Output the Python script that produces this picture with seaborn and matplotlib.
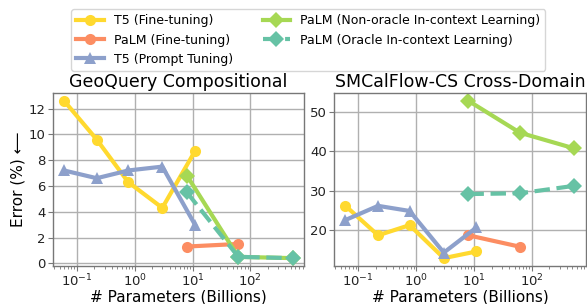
import pandas as pd
import matplotlib.pyplot as plt
import seaborn as sns

# model sizes (billions of parameters)
t5_sizes = [0.06, 0.22, 0.77, 3, 11]
palm_sizes = [8, 62, 540]
palm_ft_sizes = [8, 62]

# GeoQuery Compositional error (%)
geo_t5_ft = [12.6, 9.6, 6.3, 4.3, 8.7]
geo_palm_ft = [1.3, 1.5]
geo_t5_pt = [7.2, 6.6, 7.2, 7.5, 3.0]
geo_palm_icl = [6.8, 0.5, 0.4]
geo_palm_oracle = [5.5, 0.5, 0.4]

# SMCalFlow-CS Cross-Domain error (%)
smc_t5_ft = [26.1, 18.6, 21.2, 12.8, 14.5]
smc_palm_ft = [18.6, 15.7]
smc_t5_pt = [22.5, 26.1, 24.8, 14.2, 20.6]
smc_palm_icl = [52.8, 44.7, 40.7]
smc_palm_oracle = [29.1, 29.3, 31.2]

labels = ["T5 (Fine-tuning)", "PaLM (Fine-tuning)", "T5 (Prompt Tuning)",
          "PaLM (Non-oracle In-context Learning)", "PaLM (Oracle In-context Learning)"]
colors = ["#ffd92f", "#fc8d62", "#8da0cb", "#a6d854", "#66c2a5"]
markers = ["o", "o", "^", "D", "D"]
styles = ["-", "-", "-", "-", "--"]
xs = [t5_sizes, palm_ft_sizes, t5_sizes, palm_sizes, palm_sizes]

panels = [
    ("GeoQuery Compositional", [geo_t5_ft, geo_palm_ft, geo_t5_pt, geo_palm_icl, geo_palm_oracle]),
    ("SMCalFlow-CS Cross-Domain", [smc_t5_ft, smc_palm_ft, smc_t5_pt, smc_palm_icl, smc_palm_oracle]),
]

plt.rcParams["font.family"] = ["DejaVu Sans"]
fig = plt.figure(figsize=(5.87, 3.04), dpi=100)
ax1 = fig.add_axes([0.0898, 0.125, 0.518 - 0.0898, 0.569])
ax2 = fig.add_axes([0.569, 0.125, 0.998 - 0.569, 0.569])
axes = [ax1, ax2]

for ax, (title, series) in zip(axes, panels):
    for x, y, lab, c, m, ls in zip(xs, series, labels, colors, markers, styles):
        df = pd.DataFrame({"x": x, "y": y})
        sns.lineplot(data=df, x="x", y="y", ax=ax, color=c, marker=m, linestyle=ls,
                     linewidth=3, markersize=8, markeredgewidth=0, label=lab, legend=False)
    ax.set_xscale("log")
    ax.set_title(title, fontsize=12.5, pad=4)
    ax.set_xlabel("# Parameters (Billions)", fontsize=11, labelpad=0)
    ax.set_ylabel("")
    ax.grid(True, color="#b0b0b0", linewidth=1)
    ax.set_axisbelow(True)
    ax.tick_params(labelsize=9.5, colors="#222222", pad=1.5)
    ax.tick_params(which="both", color="#777777")
    for s in ax.spines.values():
        s.set_color("#777777")
        s.set_linewidth(1)

ax1.set_yticks([0, 2, 4, 6, 8, 10, 12])
ax2.set_yticks([20, 30, 40, 50])
ax1.set_ylabel("Error (%) \u27f5", fontsize=11, labelpad=2)

h, l = ax1.get_legend_handles_labels()
fig.legend(h, l, loc="upper center", ncol=2, fontsize=9, bbox_to_anchor=(0.525, 0.99),
           frameon=True, edgecolor="#cccccc", handlelength=2.2, columnspacing=2.4,
           labelspacing=0.5, borderpad=0.4)

plt.savefig("out.png", dpi=100)
